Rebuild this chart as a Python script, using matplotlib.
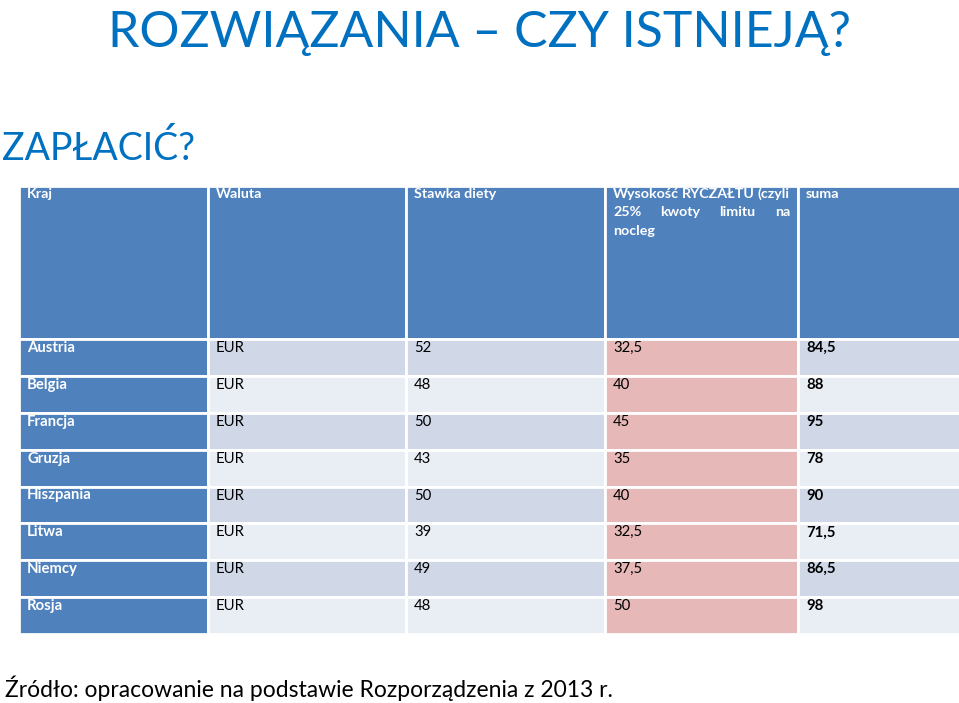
import matplotlib
matplotlib.use("Agg")
import matplotlib.pyplot as plt
from matplotlib.patches import Rectangle

# table data
headers = ["Kraj", "Waluta", "Stawka diety",
           "Wysokość RYCZAŁTU (czyli 25% kwoty limitu na nocleg", "suma"]
kraje = ["Austria", "Belgia", "Francja", "Gruzja", "Hiszpania", "Litwa", "Niemcy", "Rosja"]
waluta = ["EUR"] * 8
dieta = ["52", "48", "50", "43", "50", "39", "49", "48"]
ryczalt = ["32,5", "40", "45", "35", "40", "32,5", "37,5", "50"]
suma = ["84,5", "88", "95", "78", "90", "71,5", "86,5", "98"]

title = "ROZWIĄZANIA – CZY ISTNIEJĄ?"
subtitle = "ZAPŁACIĆ?"
source = "Źródło: opracowanie na podstawie Rozporządzenia z 2013 r."

BLUE = "#4F81BD"
ROW_A = "#D0D8E8"
ROW_B = "#E9EDF4"
PINK = "#E6B9B8"
TITLE_C = "#0070C0"

W, H = 959, 703
fig = plt.figure(figsize=(W / 100, H / 100), dpi=100)
ax = fig.add_axes([0, 0, 1, 1])
ax.set_xlim(0, W)
ax.set_ylim(H, 0)
ax.axis("off")

col_x = [19, 208, 406, 605, 798, 962]
head_top, head_bot = 186, 339
row_h = (634 - head_bot) / len(kraje)
font = "Lato"
fs = 10.3

# header
for c in range(5):
    ax.add_patch(Rectangle((col_x[c], head_top), col_x[c + 1] - col_x[c], head_bot - head_top,
                           facecolor=BLUE, edgecolor="white", linewidth=2))

for c in [0, 1, 2, 4]:
    ax.text(col_x[c] + 8, head_top + 12, headers[c], color="white", fontsize=fs,
            family=font, fontweight="bold", va="baseline", ha="left")

# justified header in column 4
lines = [["Wysokość", "RYCZAŁTU", "(czyli"], ["25%", "kwoty", "limitu", "na"], ["nocleg"]]
fig.canvas.draw()
rend = fig.canvas.get_renderer()
x0, x1 = col_x[3] + 8, col_x[4] - 8
for li, words in enumerate(lines):
    y = head_top + 12 + li * 18.5
    objs = [ax.text(0, y, w, color="white", fontsize=fs, family=font,
                    fontweight="bold", va="baseline", ha="left") for w in words]
    if len(objs) == 1:
        objs[0].set_x(x0)
        continue
    widths = [t.get_window_extent(rend).width for t in objs]  # pixels == data units here
    gap = (x1 - x0 - sum(widths)) / (len(words) - 1)
    xx = x0
    for t, wd in zip(objs, widths):
        t.set_x(xx)
        xx += wd + gap

# body
for r in range(len(kraje)):
    top = head_bot + r * row_h
    band = ROW_A if r % 2 == 0 else ROW_B
    fills = [BLUE, band, band, PINK, band]
    vals = [kraje[r], waluta[r], dieta[r], ryczalt[r], suma[r]]
    for c in range(5):
        ax.add_patch(Rectangle((col_x[c], top), col_x[c + 1] - col_x[c], row_h,
                               facecolor=fills[c], edgecolor="white", linewidth=2))
        color = "white" if c == 0 else "black"
        weight = "bold" if c in (0, 4) else "normal"
        ax.text(col_x[c] + 8, top + 13, vals[c], color=color, fontsize=fs + 0.4, family=font,
                fontweight=weight, va="baseline", ha="left")

ax.text(479, 47, title, color=TITLE_C, fontsize=36, family=font,
        va="baseline", ha="center")
ax.text(2, 160, subtitle, color=TITLE_C, fontsize=27, family=font,
        va="baseline", ha="left")
ax.text(5, 697, source, color="black", fontsize=16.5, family=font,
        va="baseline", ha="left")

fig.savefig("out.png", dpi=100)
